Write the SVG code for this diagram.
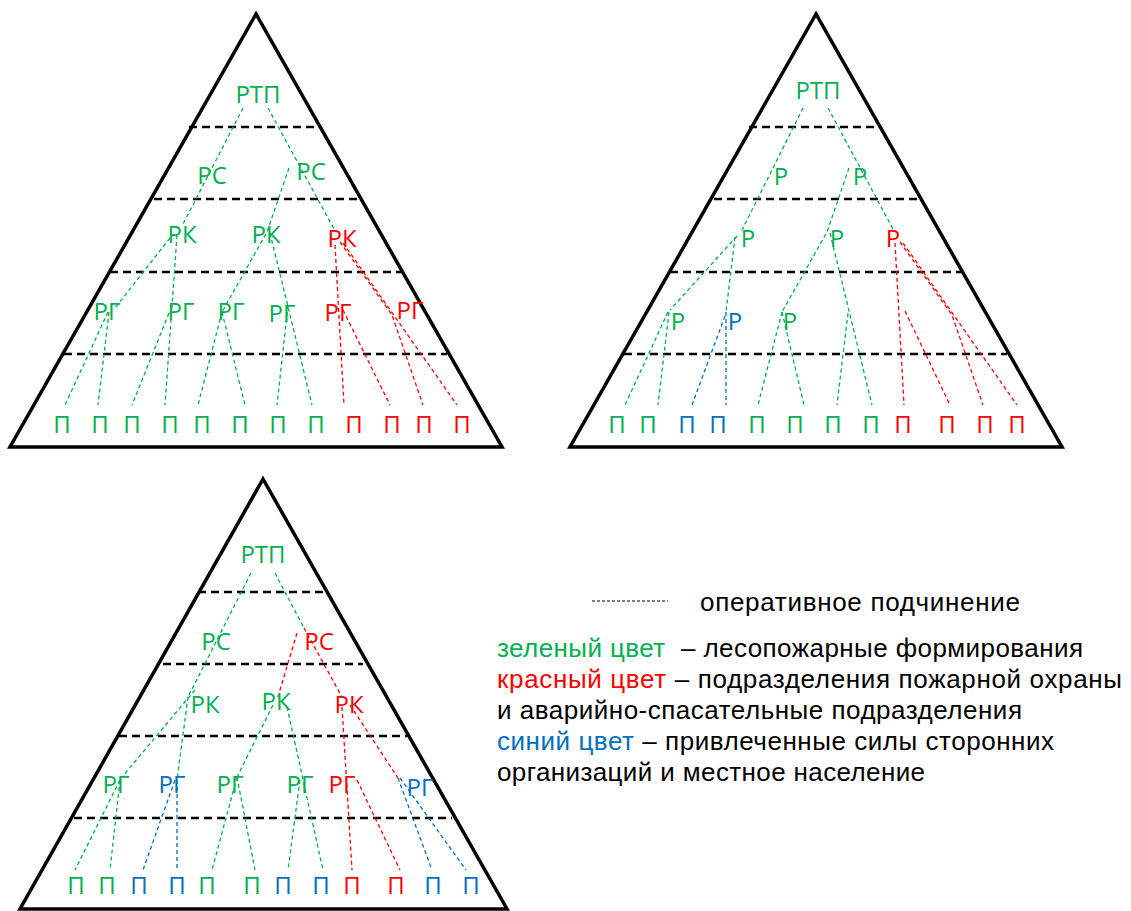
<svg xmlns="http://www.w3.org/2000/svg" width="1131" height="911" viewBox="0 0 1131 911">
<style>
.lbl{font-family:"Open Sans","Noto Sans","DejaVu Sans",sans-serif;font-size:24px;text-anchor:middle}
.g{fill:#00B050}.r{fill:#FF0000}.b{fill:#0070C0}
.tri{fill:none;stroke:#000;stroke-width:3.5;stroke-linejoin:miter;stroke-miterlimit:10}
.sep{stroke:#000;stroke-width:2.6;stroke-dasharray:8 5;fill:none}
.c{fill:none;stroke-width:1.3;stroke-dasharray:4 3}
.cg{stroke:#00B050}.cr{stroke:#FF0000}.cb{stroke:#0070C0}
.leg{font-family:"Liberation Sans","Arial",sans-serif;font-size:26px;fill:#000;white-space:pre}
</style>
<rect width="1131" height="911" fill="#fff"/>

<!-- Pyramid 1 -->
<g id="pyramid1">
<polygon class="tri" points="256,14 10,447 502,447"/>
<line class="sep" x1="189" y1="127" x2="321" y2="127"/>
<line class="sep" x1="154" y1="199" x2="357" y2="199"/>
<line class="sep" x1="110" y1="272" x2="402" y2="272"/>
<line class="sep" x1="64" y1="354" x2="447" y2="354"/>
</g>
<g id="p1-connectors">
<path class="c cg" d="M243,108 L182,226"/>
<path class="c cg" d="M268,108 L334,229"/>
<path class="c cg" d="M289,168 L267,232 L222,312"/>
<path class="c cg" d="M170,238 L115,308"/>
<path class="c cg" d="M108,312 L65,405"/>
<path class="c cg" d="M109,312 L98,405"/>
<path class="c cg" d="M177,235 L165,405"/>
<path class="c cg" d="M169,313 L132,405"/>
<path class="c cg" d="M222,312 L198,405"/>
<path class="c cg" d="M222,312 L245,405"/>
<path class="c cg" d="M270,233 L312,405"/>
<path class="c cg" d="M288,305 L277,405"/>
<path class="c cr" d="M335,245 L344,405"/>
<path class="c cr" d="M343,310 L390,405"/>
<path class="c cr" d="M340,242 L392,315 L423,405"/>
<path class="c cr" d="M343,243 L457,405"/>
</g>
<g id="p1-rtp"><text class="lbl g" x="258" y="103">РТП</text></g>
<g id="p1-rs1"><text class="lbl g" x="212" y="184">РС</text></g>
<g id="p1-rs2"><text class="lbl g" x="311" y="180">РС</text></g>
<g id="p1-rk1"><text class="lbl g" x="182" y="243">РК</text></g>
<g id="p1-rk2"><text class="lbl g" x="266" y="243">РК</text></g>
<g id="p1-rk3"><text class="lbl r" x="342" y="247">РК</text></g>
<g id="p1-rg1"><text class="lbl g" x="107" y="320">РГ</text></g>
<g id="p1-rg2"><text class="lbl g" x="181" y="320">РГ</text></g>
<g id="p1-rg3"><text class="lbl g" x="231" y="320">РГ</text></g>
<g id="p1-rg4"><text class="lbl g" x="282" y="322">РГ</text></g>
<g id="p1-rg5"><text class="lbl r" x="338" y="321">РГ</text></g>
<g id="p1-rg6"><text class="lbl r" x="410" y="319">РГ</text></g>
<g id="p1-p">
<text class="lbl g" x="62" y="433">П</text>
<text class="lbl g" x="100" y="433">П</text>
<text class="lbl g" x="132" y="433">П</text>
<text class="lbl g" x="170" y="433">П</text>
<text class="lbl g" x="202" y="433">П</text>
<text class="lbl g" x="240" y="433">П</text>
<text class="lbl g" x="278" y="433">П</text>
<text class="lbl g" x="316" y="433">П</text>
<text class="lbl r" x="354" y="433">П</text>
<text class="lbl r" x="392" y="433">П</text>
<text class="lbl r" x="424" y="433">П</text>
<text class="lbl r" x="462" y="433">П</text>
</g>

<!-- Pyramid 2 -->
<g id="pyramid2">
<polygon class="tri" points="816,14 570,447 1062,447"/>
<line class="sep" x1="749" y1="127" x2="881" y2="127"/>
<line class="sep" x1="714" y1="199" x2="917" y2="199"/>
<line class="sep" x1="670" y1="272" x2="962" y2="272"/>
<line class="sep" x1="624" y1="354" x2="1007" y2="354"/>
</g>
<g id="p2-connectors">
<path class="c cg" d="M803,108 L742,230"/>
<path class="c cg" d="M828,108 L893,229"/>
<path class="c cg" d="M849,168 L827,232 L782,312"/>
<path class="c cg" d="M737,236 L670,310"/>
<path class="c cg" d="M668,312 L625,405"/>
<path class="c cg" d="M669,312 L658,405"/>
<path class="c cg" d="M735,237 L726,312"/>
<path class="c cb" d="M726,312 L726,405"/>
<path class="c cb" d="M725,316 L692,405"/>
<path class="c cg" d="M782,312 L758,405"/>
<path class="c cg" d="M782,312 L804,405"/>
<path class="c cg" d="M830,233 L872,405"/>
<path class="c cg" d="M848,313 L837,405"/>
<path class="c cr" d="M895,243 L904,405"/>
<path class="c cr" d="M905,311 L950,405"/>
<path class="c cr" d="M900,242 L952,315 L983,405"/>
<path class="c cr" d="M903,243 L1017,405"/>
</g>
<g id="p2-rtp"><text class="lbl g" x="818" y="99">РТП</text></g>
<g id="p2-r1"><text class="lbl g" x="781" y="185">Р</text></g>
<g id="p2-r2"><text class="lbl g" x="860" y="185">Р</text></g>
<g id="p2-r3"><text class="lbl g" x="748" y="247">Р</text></g>
<g id="p2-r4"><text class="lbl g" x="837" y="247">Р</text></g>
<g id="p2-r5"><text class="lbl r" x="893" y="247">Р</text></g>
<g id="p2-r6"><text class="lbl g" x="678" y="330">Р</text></g>
<g id="p2-r7"><text class="lbl b" x="735" y="330">Р</text></g>
<g id="p2-r8"><text class="lbl g" x="790" y="330">Р</text></g>
<g id="p2-p">
<text class="lbl g" x="617" y="433">П</text>
<text class="lbl g" x="648" y="433">П</text>
<text class="lbl b" x="687" y="433">П</text>
<text class="lbl b" x="718" y="433">П</text>
<text class="lbl g" x="757" y="433">П</text>
<text class="lbl g" x="795" y="433">П</text>
<text class="lbl g" x="833" y="433">П</text>
<text class="lbl g" x="871" y="433">П</text>
<text class="lbl r" x="903" y="433">П</text>
<text class="lbl r" x="947" y="433">П</text>
<text class="lbl r" x="985" y="433">П</text>
<text class="lbl r" x="1017" y="433">П</text>
</g>

<!-- Pyramid 3 -->
<g id="pyramid3">
<polygon class="tri" points="263,479 20,909 507,909"/>
<line class="sep" x1="198" y1="592" x2="327" y2="592"/>
<line class="sep" x1="163" y1="664" x2="363" y2="664"/>
<line class="sep" x1="119" y1="736" x2="407" y2="736"/>
<line class="sep" x1="74" y1="818" x2="452" y2="818"/>
</g>
<g id="p3-connectors">
<path class="c cg" d="M251,573 L188,697"/>
<path class="c cg" d="M275,573 L304,628"/>
<path class="c cr" d="M304,628 L342,697"/>
<path class="c cr" d="M297,633 L277,700"/>
<path class="c cg" d="M195,690 L122,777"/>
<path class="c cg" d="M188,697 L177,780"/>
<path class="c cb" d="M177,780 L177,870"/>
<path class="c cb" d="M175,780 L143,870"/>
<path class="c cg" d="M120,780 L75,870"/>
<path class="c cg" d="M120,780 L110,870"/>
<path class="c cg" d="M273,705 L237,777"/>
<path class="c cg" d="M237,777 L212,870"/>
<path class="c cg" d="M237,777 L255,870"/>
<path class="c cg" d="M287,707 L323,870"/>
<path class="c cg" d="M300,780 L288,870"/>
<path class="c cr" d="M342,707 L352,870"/>
<path class="c cr" d="M357,780 L400,870"/>
<path class="c cr" d="M350,705 L398,778"/>
<path class="c cb" d="M398,778 L432,870"/>
<path class="c cb" d="M400,778 L466,870"/>
</g>
<g id="p3-rtp"><text class="lbl g" x="263" y="563">РТП</text></g>
<g id="p3-rs1"><text class="lbl g" x="216" y="650">РС</text></g>
<g id="p3-rs2"><text class="lbl r" x="319" y="650">РС</text></g>
<g id="p3-rk1"><text class="lbl g" x="205" y="713">РК</text></g>
<g id="p3-rk2"><text class="lbl g" x="276" y="710">РК</text></g>
<g id="p3-rk3"><text class="lbl r" x="349" y="713">РК</text></g>
<g id="p3-rg1"><text class="lbl g" x="116" y="793">РГ</text></g>
<g id="p3-rg2"><text class="lbl b" x="172" y="793">РГ</text></g>
<g id="p3-rg3"><text class="lbl g" x="230" y="793">РГ</text></g>
<g id="p3-rg4"><text class="lbl g" x="300" y="793">РГ</text></g>
<g id="p3-rg5"><text class="lbl r" x="342" y="793">РГ</text></g>
<g id="p3-rg6"><text class="lbl b" x="420" y="796">РГ</text></g>
<g id="p3-p">
<text class="lbl g" x="76" y="894">П</text>
<text class="lbl g" x="107" y="894">П</text>
<text class="lbl b" x="139" y="894">П</text>
<text class="lbl b" x="177" y="894">П</text>
<text class="lbl g" x="207" y="894">П</text>
<text class="lbl g" x="252" y="894">П</text>
<text class="lbl b" x="283" y="894">П</text>
<text class="lbl b" x="321" y="894">П</text>
<text class="lbl r" x="352" y="894">П</text>
<text class="lbl r" x="396" y="894">П</text>
<text class="lbl b" x="433" y="894">П</text>
<text class="lbl b" x="471" y="894">П</text>
</g>

<!-- Legend -->
<g id="legend">
<line x1="592" y1="601" x2="668" y2="601" stroke="#000" stroke-width="1" stroke-dasharray="3 2"/>
<text class="leg" x="700" y="611" textLength="320">оперативное подчинение</text>
<text class="leg" x="497" y="657" textLength="586"><tspan class="g">зеленый цвет</tspan>  – лесопожарные формирования</text>
<text class="leg" x="497" y="688" textLength="625"><tspan class="r">красный цвет</tspan> – подразделения пожарной охраны</text>
<text class="leg" x="497" y="719" textLength="525">и аварийно-спасательные подразделения</text>
<text class="leg" x="497" y="750" textLength="557"><tspan class="b">синий цвет</tspan> – привлеченные силы сторонних</text>
<text class="leg" x="497" y="781" textLength="428">организаций и местное население</text>
</g>
</svg>
